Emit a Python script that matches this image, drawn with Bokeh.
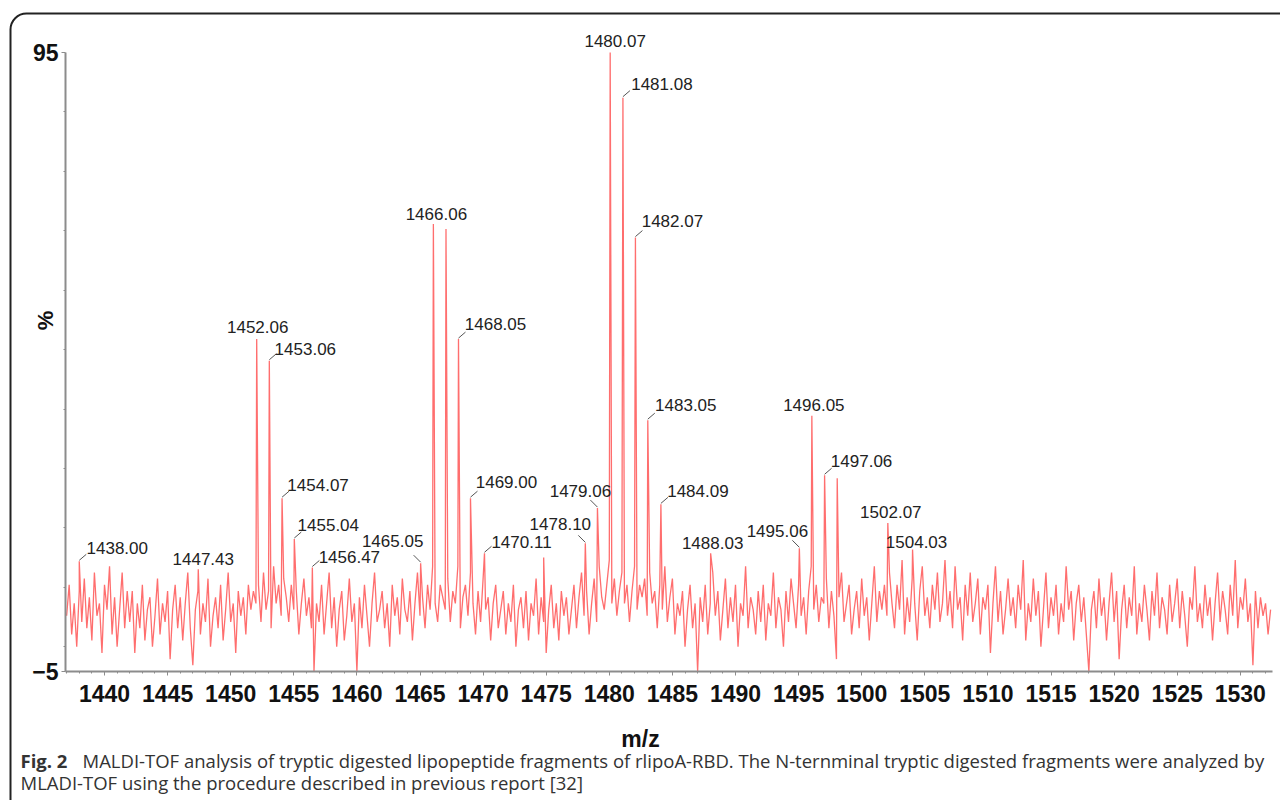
import numpy as np
from bokeh.plotting import figure
from bokeh.models import Range1d, FixedTicker, Label, BoxAnnotation, ColumnDataSource
from bokeh.embed import file_html
from bokeh.resources import INLINE
from bokeh.core.properties import value

# ---------------- data ----------------
noise_mz_start = 1437.0
noise_mz_step = 0.2
noise_intensity = [
    4, 9, 1, 6, -1, 8, 3, 10, 2, 7, 0, 11, 4, 6, -2, 9, 5, 12, 1, 7, -1, 5, 11, 2, 8,
    3, 8, -2, 6, 2, 9, 0, 5, 7, -1, 4, 10, 1, 6, 3, 8, -3, 5, 9, 2, 7, 0, 6, 11, 2,
    -4, 5, 8, 1, 6, 3, 10, -1, 4, 7, 2, 9, 0, 5, 11, 3, 6, -2, 8, 4, 7, 1, 9, 5, 8,
    6, 9, 3, 11, 5, 8, 2, 12, 6, 9, 4, 10, 7, 3, 9, 5, 8, 1, 6, 10, 4, 7, 2, -5, 6,
    3, 9, 1, 6, 11, 2, 7, -1, 5, 8, 0, 4, 10, 3, 6, -5, 7, 2, 9, 4, -1, 6, 11, 3, 5,
    8, 2, 6, -1, 9, 4, 7, 1, 10, 5, 3, 8, 0, 6, 11, 4, 7, 2, 9, 5, 12, 6, 3, 9, 7,
    5, 10, 3, 8, 6, 12, 2, 7, 9, 4, 11, 6, 1, 8, 3, 10, 5, 7, 0, 6, 9, 2, 5, 8, 1,
    6, 3, 9, -1, 5, 7, 2, 8, 0, 6, 4, 10, 1, 7, 3, -2, 5, 9, 2, 6, 0, 8, 4, 7, 1,
    5, 9, 2, 7, 11, 4, 8, 1, 6, 10, 3, 12, 7, 5, 9, 13, 6, 10, 4, 8, 11, 6, 9, 3, 8,
    12, 5, 9, 7, 10, 4, 11, 6, 8, 2, 9, 5, 12, 3, 7, 10, 1, 6, 4, 8, -1, 5, 9, 2, 6,
    -5, 7, 3, 9, 1, 6, 11, 4, 8, 0, 5, 10, 2, 7, 3, 9, -1, 6, 4, 12, 2, 7, 5, 1, 8,
    3, 9, 0, 6, 4, 11, 2, 7, 5, -1, 8, 3, 10, 6, 2, 9, 4, 7, 1, 8, 12, 5, 9, 3, 7,
    6, 10, 2, 8, 4, -3, 7, 11, 3, 6, 9, 1, 5, 8, 2, 10, 4, 7, 0, 6, 12, 3, 8, 5, 9,
    4, 11, 6, 2, 9, 5, 13, 1, 7, 3, 10, 6, 0, 8, 12, 4, 7, 2, 9, 5, 11, 3, 6, 13, 4,
    8, 2, 12, 5, 7, 0, 9, 4, 11, 3, 6, 10, 1, 7, 5, 9, -2, 6, 12, 3, 8, 1, 5, 10, 4,
    7, 2, 9, 5, 13, 0, 6, 3, 10, 4, 8, -1, 5, 11, 2, 7, 4, 9, 1, 6, 3, 12, 5, 8, 0,
    6, 9, 3, 7, 1, -5, 5, 8, 2, 10, 4, 7, 0, 6, 11, 3, 8, -3, 5, 9, 2, 7, 4, 12, 1,
    6, 3, 9, 5, 0, 8, 4, 11, 2, 7, 5, 1, 9, 3, 6, 10, 2, 8, 4, -1, 7, 5, 12, 3, 6,
    2, 9, 4, 7, 0, 6, 11, 3, 8, 5, 1, 9, 4, 13, 2, 7, 5, 10, 3, 6, -4, 8, 2, 7, 4,
    6, 1, 5,
]

peak_mz = [1438.00, 1447.43, 1452.06, 1453.06, 1454.07, 1455.04, 1456.47,
           1465.05, 1466.06, 1467.06, 1468.05, 1469.00, 1470.11, 1474.80,
           1478.10, 1479.06, 1480.07, 1481.08, 1482.07, 1483.05, 1484.09,
           1488.03, 1495.06, 1496.05, 1497.06, 1498.06, 1502.07, 1504.03]
peak_intensity = [12.8, 11.5, 48.7, 45.2, 23.0, 16.4, 11.8,
                  12.5, 67.3, 66.5, 48.7, 23.0, 14.1, 13.4,
                  15.7, 21.4, 95.0, 87.7, 65.1, 35.6, 22.0,
                  14.1, 14.9, 36.3, 26.7, 26.2, 19.0, 14.7]
peak_label = ["1438.00", "1447.43", "1452.06", "1453.06", "1454.07", "1455.04", "1456.47",
              "1465.05", "1466.06", "", "1468.05", "1469.00", "1470.11", "",
              "1478.10", "1479.06", "1480.07", "1481.08", "1482.07", "1483.05", "1484.09",
              "1488.03", "1495.06", "1496.05", "1497.06", "", "1502.07", "1504.03"]

x_ticks = list(range(1440, 1531, 5))
y_ticks = [-5, 95]
x_axis_title = "m/z"
y_axis_title = "%"
caption_bold = "Fig. 2"
caption_line1 = ("MALDI-TOF analysis of tryptic digested lipopeptide fragments of rlipoA-RBD. "
                 "The N-ternminal tryptic digested fragments were analyzed by")
caption_line2 = "MLADI-TOF using the procedure described in previous report [32]"

# ---------------- layout / style ----------------
label_offsets = {  # (dx px, dy px, leader side)
    "1438.00": (38, -13, "r"), "1447.43": (5, -10, ""), "1452.06": (1, -12, ""),
    "1453.06": (36, -12, "r"), "1454.07": (36, -13, "r"), "1455.04": (34, -14, "r"),
    "1456.47": (37, -11, "r"), "1465.05": (-28, -22, "l"), "1466.06": (3, -10, ""),
    "1468.05": (37, -15, "r"), "1469.00": (36, -16, "r"), "1470.11": (37, -11, "r"),
    "1478.10": (-25, -19, "l"), "1479.06": (-17, -17, "l"), "1480.07": (5, -12, ""),
    "1481.08": (39, -14, "r"), "1482.07": (37, -17, "r"), "1483.05": (38, -15, "r"),
    "1484.09": (37, -13, "r"), "1488.03": (2, -10, ""), "1495.06": (-22, -17, "l"),
    "1496.05": (2, -11, ""), "1497.06": (37, -14, "r"), "1502.07": (3, -11, ""),
    "1504.03": (4, -8, ""),
}

ORG = 0                     # page pixel where the canvas starts
W, H = 1280, 800
PPX, PPY = 12.62, 6.19      # pixels per m/z unit, pixels per % unit
X_REF_PX, Y_REF_PX = 104, 52  # page pixel of m/z 1440 and of 95 %


def X(px):  # page pixel -> data x
    return 1440 + (px - X_REF_PX) / PPX


def Y(py):  # page pixel -> data y
    return 95 - (py - Y_REF_PX) / PPY


# spectrum = noise samples + peak tops, merged in m/z order
noise_mz = noise_mz_start + noise_mz_step * np.arange(len(noise_intensity))
all_mz = np.concatenate([noise_mz, np.array(peak_mz)])
all_int = np.concatenate([np.array(noise_intensity, float), np.array(peak_intensity)])
order = np.argsort(all_mz, kind="stable")
spec_src = ColumnDataSource(dict(x=all_mz[order], y=all_int[order]))

p = figure(width=W, height=H, output_backend="svg", toolbar_location=None,
           x_range=Range1d(X(ORG), X(ORG + W)), y_range=Range1d(Y(ORG + H), Y(ORG)),
           min_border=0, min_border_left=0, min_border_right=0,
           min_border_top=0, min_border_bottom=0)
p.outline_line_color = None
p.grid.visible = False
p.background_fill_color = "white"
p.border_fill_color = "white"

p.line("x", "y", source=spec_src, line_color="#ff3030", line_alpha=0.7, line_width=1.3)

# peak labels with leader lines
lx, ly, lt, ldx, ldy = [], [], [], [], []
sx0, sy0, sx1, sy1 = [], [], [], []
for mz, it, lab in zip(peak_mz, peak_intensity, peak_label):
    if not lab:
        continue
    dx, dy, side = label_offsets[lab]
    lx.append(mz); ly.append(it); lt.append(lab); ldx.append(dx); ldy.append(dy)
    if side:
        sgn = 1 if side == "r" else -1
        sx0.append(mz); sy0.append(it + 1 / PPY)
        sx1.append(mz + sgn * 7 / PPX); sy1.append(it + (7 if side == "r" else 8) / PPY)

p.segment(sx0, sy0, sx1, sy1, line_color="#555555", line_width=1)
lab_src = ColumnDataSource(dict(x=lx, y=ly, t=lt, dx=ldx, dy=ldy))
p.text("x", "y", text="t", x_offset="dx", y_offset="dy", source=lab_src,
       text_font=value("Liberation Sans"), text_font_size="17px", text_color="#222222",
       text_align="center", text_baseline="middle")

# axes, fixed inside the frame
xa = p.xaxis[0]
xa.ticker = FixedTicker(ticks=x_ticks, minor_ticks=list(range(1437, 1533)))
xa.fixed_location = -5
xa.bounds = (X(65), X(1272))
ya = p.yaxis[0]
ya.ticker = FixedTicker(ticks=y_ticks,
                        minor_ticks=[85.4, 75.8, 66.2, 56.6, 47.0, 37.4, 27.8, 18.2, 8.6, -1.0])
ya.fixed_location = X(65)
ya.bounds = (-5, 95)
for ax in (xa, ya):
    ax.axis_line_color = "#8c8c8c"
    ax.axis_line_width = 2
    ax.major_tick_line_color = "#8c8c8c"
    ax.minor_tick_line_color = "#8c8c8c"
    ax.major_tick_in = 0
    ax.minor_tick_in = 0
    ax.major_tick_out = 4
    ax.minor_tick_out = 2
    ax.major_label_text_font = "Liberation Sans"
    ax.major_label_text_font_style = "bold"
    ax.major_label_text_font_size = "23px"
    ax.major_label_text_color = "#111111"
xa.major_label_standoff = 9
ya.major_label_standoff = 3

# frame border with rounded corner (right / bottom sides fall outside the window)
p.add_layout(BoxAnnotation(left=X(10), right=X(1400), top=Y(13), bottom=Y(1000),
                           fill_alpha=0, line_color="#222222", line_alpha=1.0,
                           line_width=2, border_radius=16))

# axis titles and caption
p.add_layout(Label(x=X(45), y=Y(320), text=y_axis_title, angle=90, angle_units="deg",
                   text_font="Liberation Sans", text_font_style="bold",
                   text_font_size="22px", text_align="center", text_baseline="middle",
                   text_color="#111111"))
p.add_layout(Label(x=X(640), y=Y(738), text=x_axis_title,
                   text_font="Liberation Sans", text_font_style="bold", text_font_size="23px",
                   text_align="center", text_baseline="middle", text_color="#111111"))
cap_font = "Open Sans"
cap_size = "18.5px"
p.add_layout(Label(x=X(20), y=Y(760), text=caption_bold,
                   text_font=cap_font, text_font_style="bold", text_font_size=cap_size,
                   text_baseline="alphabetic", text_color="#333333"))
p.add_layout(Label(x=X(82), y=Y(760), text=caption_line1,
                   text_font=cap_font, text_font_size=cap_size,
                   text_baseline="alphabetic", text_color="#333333"))
p.add_layout(Label(x=X(20), y=Y(782), text=caption_line2,
                   text_font=cap_font, text_font_size=cap_size,
                   text_baseline="alphabetic", text_color="#333333"))

open("out.html", "w").write(file_html(p, INLINE))
